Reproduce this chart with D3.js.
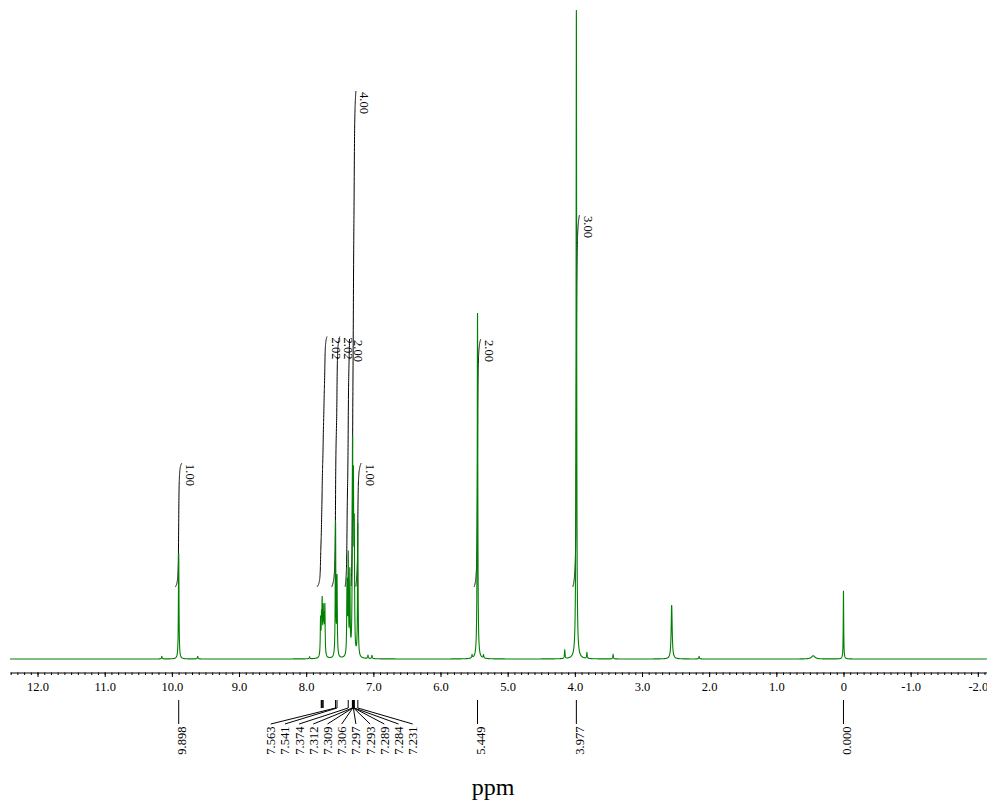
<!DOCTYPE html>
<html>
<head>
<meta charset="utf-8">
<script src="https://cdn.jsdelivr.net/npm/d3@7/dist/d3.min.js"></script>
<style>
  body { margin: 0; background: #fff; }
  svg { display: block; }
  svg text { font-family: "Liberation Serif", "Times New Roman", Times, serif !important; fill: #000; }
</style>
</head>
<body>
<svg id="chart" width="987" height="804"></svg>
<script>
// ---- 1H NMR line list (chemical shift in ppm, relative height, half-width in ppm) ----
const peakPpm    = [10.150, 9.898, 9.615, 7.950, 7.786, 7.772, 7.762, 7.747, 7.735, 7.722,
                    7.563, 7.541, 7.392, 7.374, 7.350, 7.310, 7.297, 7.284, 7.231,
                    7.080, 7.020, 5.530, 5.449, 5.360, 4.150, 3.977, 3.820, 3.430, 2.558,
                    2.150, 0.450, 0.000];
const peakHeight = [0.4, 16.3, 0.4, 0.3, 5.5, 5.0, 7.5, 6.5, 5.0, 7.5,
                    20.5, 12.0, 11.0, 15.0, 12.5, 30.4, 23.3, 17.9, 20.5,
                    0.5, 0.5, 0.5, 53.3, 0.5, 1.3, 100, 0.9, 0.7, 8.3,
                    0.4, 0.5, 10.5];
const peakWidth  = [0.006, 0.005, 0.006, 0.006, 0.005, 0.005, 0.005, 0.005, 0.005, 0.005,
                    0.005, 0.005, 0.005, 0.005, 0.005, 0.005, 0.005, 0.005, 0.005,
                    0.006, 0.006, 0.006, 0.005, 0.006, 0.005, 0.005, 0.005, 0.005, 0.009,
                    0.006, 0.03, 0.004];

// ---- integral regions ----
const integralFrom  = [9.95, 7.84, 7.62, 7.42, 7.33, 7.26, 5.50, 4.03];
const integralTo    = [9.85, 7.69, 7.50, 7.355, 7.26, 7.18, 5.40, 3.93];
const integralValue = [1.00, 2.02, 2.02, 2.00, 4.00, 1.00, 2.00, 3.00];

// ---- picked peaks ----
const singlePicks    = [9.898, 5.449, 3.977, 0.000];
const multipletPicks = [7.563, 7.541, 7.374, 7.312, 7.309, 7.306, 7.297, 7.293, 7.289, 7.284, 7.231];
const unlabeledPicks = [7.776, 7.770, 7.754, 7.748];

// ---- axis ----
const majorTicks = [12, 11, 10, 9, 8, 7, 6, 5, 4, 3, 2, 1, 0, -1, -2];
const tickLabels = ["12.0", "11.0", "10.0", "9.0", "8.0", "7.0", "6.0", "5.0", "4.0", "3.0", "2.0", "1.0", "0", "-1.0", "-2.0"];

const SERIF = '"Liberation Serif", "Times New Roman", Times, serif';
const svg = d3.select("#chart");
const W = 987, H = 804;
svg.append("rect").attr("width", W).attr("height", H).attr("fill", "#fff");

const x = d3.scaleLinear().domain([12.41, -2.137]).range([10, 987]);
const y = d3.scaleLinear().domain([0, 100]).range([659, 10]);
const yInt = d3.scaleLinear().domain([0, 1]).range([587, 463]);

function intensity(p) {
  let s = 0;
  for (let i = 0; i < peakPpm.length; i++) {
    const d = (p - peakPpm[i]) / peakWidth[i];
    s += peakHeight[i] / (1 + d * d);
  }
  return s;
}

const step = 0.0005;

// integral curves with their values
integralValue.forEach((v, i) => {
  const a = integralFrom[i], b = integralTo[i];
  const seg = [];
  let cum = 0;
  for (let p = a; p >= b - 1e-9; p -= step) {
    cum += intensity(p);
    seg.push([p, cum]);
  }
  const total = cum;
  const curve = seg.map(d => [x(d[0]), yInt(v * d[1] / total)]);
  svg.append("path")
    .attr("fill", "none")
    .attr("stroke", "#000")
    .attr("stroke-width", 1)
    .attr("d", d3.line()(curve));
  const top = curve[curve.length - 1];
  svg.append("text")
    .attr("transform", `translate(${top[0] + 4.5},${top[1] + 1}) rotate(90)`)
    .style("font-family", SERIF)
    .attr("font-size", 12.5)
    .attr("text-anchor", "start")
    .text(v.toFixed(2));
});

// spectrum trace
const pts = [];
for (let p = 12.41; p >= -2.137; p -= step) pts.push(p);
peakPpm.forEach(p => pts.push(p));
pts.sort((a, b) => b - a);
const trace = pts.map(p => [p, intensity(p)]);

svg.append("path")
  .datum(trace)
  .attr("fill", "none")
  .attr("stroke", "#008000")
  .attr("stroke-width", 1.1)
  .attr("d", d3.line().x(d => x(d[0])).y(d => Math.max(10, y(d[1]))));

// ppm axis
const axisY = 672.5;
const gMinor = svg.append("g").attr("transform", `translate(0,${axisY})`);
gMinor.call(d3.axisBottom(x)
  .tickValues(d3.range(-21, 125).map(i => i / 10))
  .tickSize(2.5).tickSizeOuter(0).tickFormat(""));
const gMajor = svg.append("g").attr("transform", `translate(0,${axisY})`);
gMajor.call(d3.axisBottom(x)
  .tickValues(majorTicks)
  .tickSize(4.5).tickSizeOuter(0).tickPadding(5)
  .tickFormat((d, i) => tickLabels[i]));
gMajor.select(".domain").remove();
svg.selectAll("g").attr("font-family", SERIF);
svg.selectAll(".tick text").attr("font-size", 12.5).style("font-family", SERIF);
svg.selectAll(".domain, .tick line").attr("stroke", "#000");

// peak pick labels
const pickTop = 700, barBottom = 708, lineEnd = 724, textTop = 726.5;
const picks = svg.append("g").attr("stroke", "#000").attr("stroke-width", 1);

singlePicks.forEach(p => {
  const px = x(p);
  picks.append("line").attr("x1", px).attr("x2", px).attr("y1", pickTop).attr("y2", lineEnd);
  svg.append("text")
    .attr("transform", `translate(${px + 7.5},${textTop}) rotate(-90)`)
    .style("font-family", SERIF)
    .attr("font-size", 12.5)
    .attr("text-anchor", "end")
    .text(p.toFixed(3));
});

unlabeledPicks.forEach(p => {
  const px = x(p);
  picks.append("line").attr("x1", px).attr("x2", px).attr("y1", pickTop).attr("y2", barBottom);
});

const fanLeft = 270.7, fanStep = 14.2;
multipletPicks.forEach((p, i) => {
  const px = x(p);
  const lx = fanLeft + i * fanStep;
  picks.append("path").attr("fill", "none")
    .attr("d", `M${px},${pickTop}L${px},${barBottom}L${lx},${lineEnd}`);
  svg.append("text")
    .attr("transform", `translate(${lx + 4.5},${textTop}) rotate(-90)`)
    .style("font-family", SERIF)
    .attr("font-size", 12.5)
    .attr("text-anchor", "end")
    .text(p.toFixed(3));
});

// axis title
svg.append("text")
  .attr("x", 493).attr("y", 795)
  .attr("text-anchor", "middle")
  .style("font-family", SERIF)
  .attr("font-size", 24)
  .text("ppm");
</script>
</body>
</html>
